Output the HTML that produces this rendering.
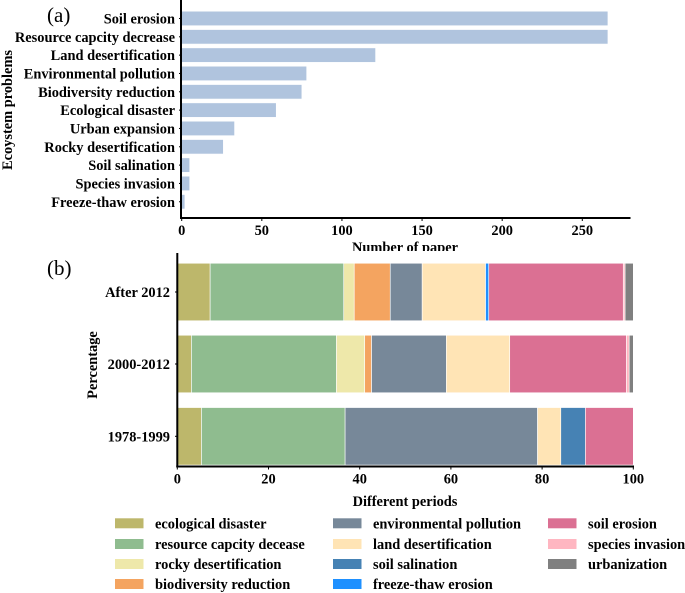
<!DOCTYPE html>
<html><head><meta charset="utf-8"><style>
html,body{margin:0;padding:0;background:#fff;}
svg{display:block;font-family:"Liberation Serif",serif;font-weight:bold;}
</style></head><body>
<svg id="fig" width="685" height="593" viewBox="0 0 685 593">
<g id="chartA"></g>
<rect x="0" y="251" width="685" height="342" fill="#fff"/>
<g id="chartB"></g>
<g id="legend"></g>
</svg>
<script>
const catsA = ["Soil erosion","Resource capcity decrease","Land desertification","Environmental pollution","Biodiversity reduction","Ecological disaster ","Urban expansion","Rocky desertification","Soil salination","Species invasion","Freeze-thaw erosion"];
const valsA = [266,266,121,78,75,59,33,26,5,5,2];
const ticksA = [0,50,100,150,200,250];

const periods = ["After 2012","2000-2012","1978-1999"];
const seriesNames = ["ecological disaster","resource capcity decease","rocky desertification","biodiversity reduction","environmental pollution","land desertification","soil salination","freeze-thaw erosion","soil erosion","species invasion","urbanization"];
const seriesColors = ["#bdb76b","#8fbc8f","#eee8aa","#f4a460","#778899","#ffe4b5","#4682b4","#1e90ff","#db7093","#ffb6c1","#808080"];
const s_eco = [7.2,3.1,5.3];
const s_res = [29.3,31.8,31.5];
const s_rocky = [2.3,6.2,0];
const s_bio = [7.9,1.5,0];
const s_env = [7.0,16.4,42.2];
const s_land = [13.9,13.9,5.1];
const s_salin = [0,0,5.4];
const s_freeze = [0.7,0,0];
const s_soil = [29.5,25.6,10.5];
const s_species = [0.4,0.6,0];
const s_urban = [1.8,0.9,0];
const seriesVals = [s_eco,s_res,s_rocky,s_bio,s_env,s_land,s_salin,s_freeze,s_soil,s_species,s_urban];
const ticksB = [0,20,40,60,80,100];

const NS="http://www.w3.org/2000/svg";
const FS=14.4;
function mk(parent,tag,attrs,text){const e=document.createElementNS(NS,tag);for(const k in attrs)e.setAttribute(k,attrs[k]);if(text!==undefined)e.textContent=text;parent.appendChild(e);return e;}

// Chart A
const A=document.getElementById('chartA');
const ax0=181.7, axScale=(582.3-181.7)/250, ayTop=9.3, ayStep=18.33, aBarH=14.5, aBase=218;
const xA=v=>ax0+v*axScale;
const yA=i=>ayTop+i*ayStep+ayStep/2;
catsA.forEach((c,i)=>{
  const r=mk(A,'rect',{x:xA(0),y:yA(i)-aBarH/2,width:xA(valsA[i])-xA(0),height:aBarH,fill:'#b0c4de',stroke:'#fff','stroke-width':0.6});
  
  
  const t=mk(A,'text',{x:175,y:yA(i)+5,'text-anchor':'end','font-size':FS},c);
  
  
  mk(A,'line',{x1:179,x2:181,y1:yA(i),y2:yA(i),stroke:'#000'});
});
mk(A,'line',{x1:181,x2:181,y1:0,y2:aBase+1,stroke:'#000','stroke-width':2});
mk(A,'line',{x1:180,x2:630.5,y1:aBase,y2:aBase,stroke:'#000','stroke-width':2});
ticksA.forEach(v=>{
  mk(A,'line',{x1:xA(v),x2:xA(v),y1:aBase,y2:aBase+3,stroke:'#000'});
  const t=mk(A,'text',{x:xA(v),y:aBase+17,'text-anchor':'middle','font-size':FS},v);
  
  
});
let t=mk(A,'text',{x:405,y:252,'text-anchor':'middle','font-size':FS},'Number of paper');

t=mk(A,'text',{x:0,y:0,'text-anchor':'middle','font-size':FS,transform:'translate(12,110) rotate(-90)'},'Ecoystem problems');

t=mk(A,'text',{x:47,y:22,'text-anchor':'start','font-size':21,'font-weight':'normal'},'(a)');


// Chart B
const B=document.getElementById('chartB');
const bx0=177.3, bScale=(633.3-177.3)/100, bBase=466.5;
const xB=v=>bx0+v*bScale;
const bCenters=[292,364,436.3], bH=57.5;
periods.forEach((p,i)=>{
  let acc=0;
  seriesVals.forEach((arr,s)=>{
    const v=arr[i];
    if(v>0){
      const r=mk(B,'rect',{x:xB(acc),y:bCenters[i]-bH/2,width:xB(acc+v)-xB(acc),height:bH,fill:seriesColors[s],stroke:'#fff','stroke-width':0.6});
      
      
    }
    acc+=v;
  });
  const t=mk(B,'text',{x:170,y:bCenters[i]+5,'text-anchor':'end','font-size':FS},p);
  
  
  mk(B,'line',{x1:175,x2:177,y1:bCenters[i],y2:bCenters[i],stroke:'#000'});
});
mk(B,'line',{x1:177.3,x2:177.3,y1:253,y2:bBase+1,stroke:'#000','stroke-width':2});
mk(B,'line',{x1:176.3,x2:634,y1:bBase,y2:bBase,stroke:'#000','stroke-width':2});
ticksB.forEach(v=>{
  mk(B,'line',{x1:xB(v),x2:xB(v),y1:bBase,y2:bBase+3,stroke:'#000'});
  const t=mk(B,'text',{x:xB(v),y:bBase+17,'text-anchor':'middle','font-size':FS},v);
  
  
});
t=mk(B,'text',{x:405,y:506,'text-anchor':'middle','font-size':FS},'Different periods');

t=mk(B,'text',{x:0,y:0,'text-anchor':'middle','font-size':FS,transform:'translate(97,365) rotate(-90)'},'Percentage');

t=mk(B,'text',{x:47,y:275,'text-anchor':'start','font-size':21,'font-weight':'normal'},'(b)');


// Legend
const L=document.getElementById('legend');
const colX=[115,333,548], rowY=[523.3,544,564,584];
const cols=[[0,1,2,3],[4,5,6,7],[8,9,10]];
cols.forEach((c,ci)=>c.forEach((s,ri)=>{
  const g=mk(L,'g',{});
  
  
  mk(g,'rect',{x:colX[ci],y:rowY[ri]-5,width:28.5,height:10,fill:seriesColors[s]});
  mk(g,'text',{x:colX[ci]+40,y:rowY[ri]+5,'font-size':FS},seriesNames[s]);
}));
</script>
</body></html>
